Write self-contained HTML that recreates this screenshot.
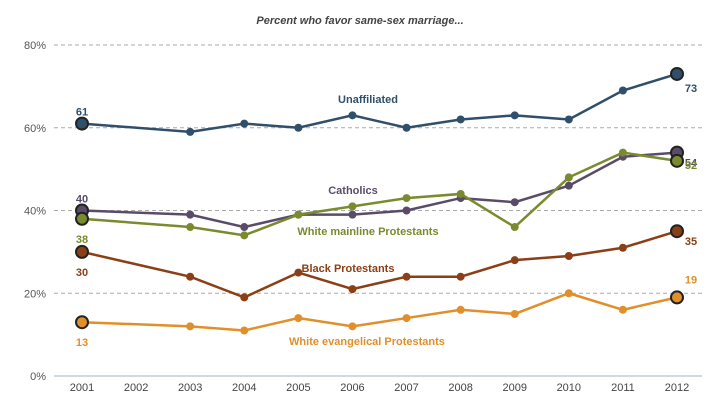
<!DOCTYPE html>
<html><head><meta charset="utf-8"><style>
body{margin:0;background:#fff;width:727px;height:405px;overflow:hidden}
svg text{font-family:"Liberation Sans",Arial,sans-serif}
</style></head><body>
<svg id="chart" width="727" height="405"></svg>
<script>
const years=[2001,2002,2003,2004,2005,2006,2007,2008,2009,2010,2011,2012];
const ptYears=[2001,2003,2004,2005,2006,2007,2008,2009,2010,2011,2012];
const unaffiliated=[61,59,61,60,63,60,62,63,62,69,73];
const catholics=[40,39,36,39,39,40,43,42,46,53,54];
const mainline=[38,36,34,39,41,43,44,36,48,54,52];
const black=[30,24,19,25,21,24,24,28,29,31,35];
const evangelical=[13,12,11,14,12,14,16,15,20,16,19];
const yTicks=[0,20,40,60,80];
const svg=document.getElementById('chart');
const NS='http://www.w3.org/2000/svg';
const x=y=>82+(y-2001)*(677-82)/11;
const yv=v=>376-v*(376-45)/80;
function mk(t,a,p){const e=document.createElementNS(NS,t);for(const k in a)e.setAttribute(k,a[k]);(p||svg).appendChild(e);return e;}
let t=mk('text',{x:360,y:24,'text-anchor':'middle','font-size':11,'font-style':'italic','font-weight':'bold',fill:'#444'});t.textContent='Percent who favor same-sex marriage...';


yTicks.forEach(v=>{
  if(v>0){const l=mk('line',{x1:54,x2:702,y1:yv(v),y2:yv(v),stroke:'#aaa','stroke-dasharray':'4,3'});
  
  }
  const tx=mk('text',{x:46,y:yv(v)+4,'text-anchor':'end','font-size':11,fill:'#555'});tx.textContent=v+'%';
  
  
});
const ax=mk('line',{x1:54,x2:702,y1:376,y2:376,stroke:'#a3b3c8'});


years.forEach(yr=>{
  const tx=mk('text',{x:x(yr),y:391,'text-anchor':'middle','font-size':11,fill:'#444'});tx.textContent=yr;
  
  
});
const series=[
 {name:'unaffiliated',data:unaffiliated,c:'#2f4f6a',lab:'Unaffiliated',lx:368,ly:103,f:'61',fo:-12,l:'73',lo:[14,18]},
 {name:'catholics',data:catholics,c:'#5a4c68',lab:'Catholics',lx:353,ly:194,f:'40',fo:-12,l:'54',lo:[14,14]},
 {name:'mainline',data:mainline,c:'#7a8a2e',lab:'White mainline Protestants',lx:368,ly:235,f:'38',fo:20,l:'52',lo:[14,8]},
 {name:'black',data:black,c:'#8b3f16',lab:'Black Protestants',lx:348,ly:272,f:'30',fo:20,l:'35',lo:[14,14]},
 {name:'evangelical',data:evangelical,c:'#e08f2a',lab:'White evangelical Protestants',lx:367,ly:345,f:'13',fo:20,l:'19',lo:[14,-14]}
];
series.forEach(s=>{
  const g=mk('g',{});
  
  
  const pts=s.data.map((v,i)=>x(ptYears[i])+','+yv(v)).join(' ');
  mk('polyline',{points:pts,fill:'none',stroke:s.c,'stroke-width':2.5},g);
  s.data.forEach((v,i)=>{
    const end=i==0||i==s.data.length-1;
    const c=mk('circle',{cx:x(ptYears[i]),cy:yv(v),r:end?6:4,fill:s.c,stroke:end?'#222':'none','stroke-width':end?2:0},g);
    
    
  });
  const lt=mk('text',{x:s.lx,y:s.ly,'text-anchor':'middle','font-size':11,'font-weight':'bold',fill:s.c},g);lt.textContent=s.lab;
  
  
  const ft=mk('text',{x:x(2001),y:yv(s.data[0])+s.fo+4,'text-anchor':'middle','font-size':11,'font-weight':'bold',fill:s.c},g);ft.textContent=s.f;
  
  
  const n=s.data.length-1;
  const et=mk('text',{x:x(2012)+s.lo[0],y:yv(s.data[n])+s.lo[1],'text-anchor':'middle','font-size':11,'font-weight':'bold',fill:s.c},g);et.textContent=s.l;
  
  
});
</script>
</body></html>
